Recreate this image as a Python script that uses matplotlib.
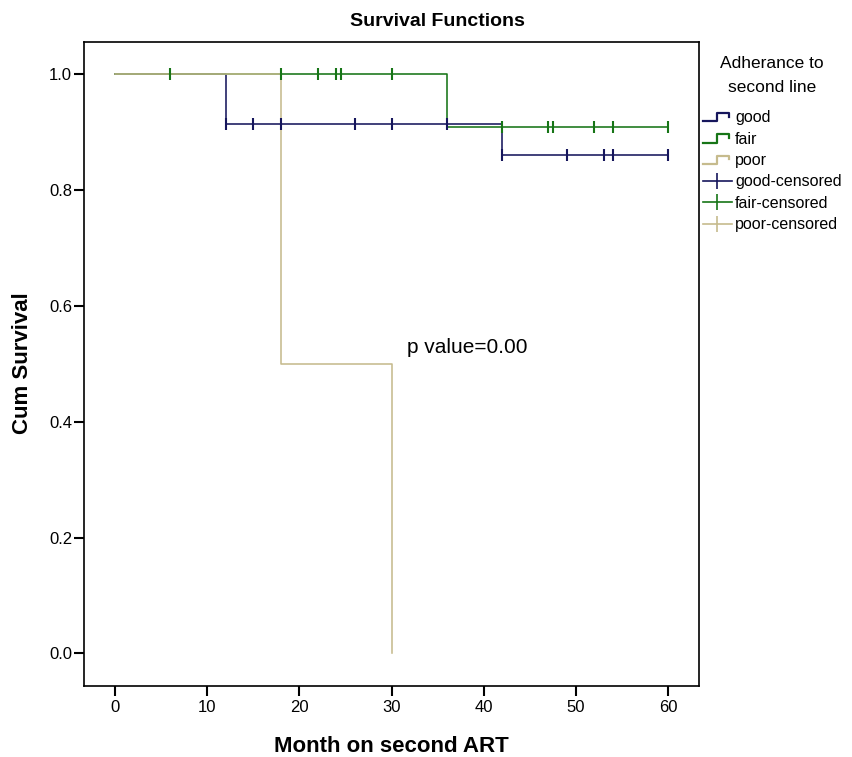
import numpy as np
import matplotlib
matplotlib.use("Agg")
import matplotlib.pyplot as plt
from matplotlib.lines import Line2D

plt.rcParams['font.family'] = ['Liberation Sans', 'DejaVu Sans']

# ---- data ----
good_t = [0, 12, 42, 60]
good_s = [1.0, 0.915, 0.86, 0.86]
fair_t = [0, 36, 60]
fair_s = [1.0, 0.909, 0.909]
poor_t = [0, 18, 30]
poor_s = [1.0, 0.5, 0.0]

good_cens = [12, 15, 18, 26, 30, 36, 42, 49, 53, 54, 60]
fair_cens = [6, 18, 22, 24, 24.5, 30, 42, 47, 47.5, 52, 54, 60]
poor_cens = []

xticks = [0, 10, 20, 30, 40, 50, 60]
yticks = [0.0, 0.2, 0.4, 0.6, 0.8, 1.0]

c_good = '#16165c'
c_fair = '#177517'
c_poor = '#c6bb8d'


def surv_at(t_steps, s_steps, times):
    idx = np.searchsorted(np.asarray(t_steps), np.asarray(times, dtype=float), side='right') - 1
    return np.asarray(s_steps)[idx]


fig = plt.figure(figsize=(8.53, 7.57), dpi=100)
ax = fig.add_axes([84/853, 1-685.7/757, (699.3-84)/853, (685.7-42)/757])

lw = 1.15
ax.step(good_t, good_s, where='post', color=c_good, lw=lw, zorder=2)
ax.step(fair_t, fair_s, where='post', color=c_fair, lw=lw, zorder=3)
ax.step(poor_t, poor_s, where='post', color=c_poor, lw=lw, zorder=4)

ms, mew = 9, 1.5
ax.plot(good_cens, surv_at(good_t, good_s, good_cens), ls='none', marker='|',
        ms=ms, mew=mew, color=c_good, zorder=5)
ax.plot(fair_cens, surv_at(fair_t, fair_s, fair_cens), ls='none', marker='|',
        ms=ms, mew=mew, color=c_fair, zorder=6)
if poor_cens:
    ax.plot(poor_cens, surv_at(poor_t, poor_s, poor_cens), ls='none', marker='|',
            ms=ms, mew=mew, color=c_poor, zorder=6)

ax.set_xlim(-3.36, 63.37)
ax.set_ylim(-0.056, 1.056)
ax.set_xticks(xticks)
ax.set_yticks(yticks)
ax.set_xticklabels([str(v) for v in xticks])
ax.set_yticklabels([f"{v:.1f}" for v in yticks])
ax.tick_params(direction='out', length=7.5, width=1.5, labelsize=12, colors='black')
ax.tick_params(axis='x', pad=3)
ax.tick_params(axis='y', pad=1)
for sp in ax.spines.values():
    sp.set_linewidth(1.2)
    sp.set_color('black')

ax.text(31.7, 0.529, "p value=0.00", fontsize=15, va='center', ha='left')

fig.text(437/853, 1-22/757, "Survival Functions", fontsize=14, fontweight='bold',
         ha='center', va='center')
fig.text(391.5/853, 1-746/757, "Month on second ART", fontsize=16, fontweight='bold',
         ha='center', va='center')
fig.text(23/853, 1-363/757, "Cum Survival", fontsize=16, fontweight='bold',
         ha='center', va='center', rotation=90)


class StepHandler:
    def legend_artist(self, legend, orig_handle, fontsize, handlebox):
        x0, y0 = -handlebox.xdescent, -handlebox.ydescent
        w, h = handlebox.width, handlebox.height
        xs = [x0, x0 + w*0.5, x0 + w*0.5, x0 + w*0.92, x0 + w*0.92]
        ys = [y0 + h*0.1, y0 + h*0.1, y0 + h*0.85, y0 + h*0.85, y0 + h*0.5]
        ln = Line2D(xs, ys, color=orig_handle.get_color(), lw=1.6,
                    transform=handlebox.get_transform())
        handlebox.add_artist(ln)
        return ln


h_good = Line2D([], [], color=c_good)
h_fair = Line2D([], [], color=c_fair)
h_poor = Line2D([], [], color=c_poor)
hc_good = Line2D([], [], color=c_good, marker='|', ms=11, mew=1.2, lw=1.2)
hc_fair = Line2D([], [], color=c_fair, marker='|', ms=11, mew=1.2, lw=1.2)
hc_poor = Line2D([], [], color=c_poor, marker='|', ms=11, mew=1.2, lw=1.2)

handles = [h_good, h_fair, h_poor, hc_good, hc_fair, hc_poor]
labels = ["good", "fair", "poor", "good-censored", "fair-censored", "poor-censored"]
leg = fig.legend(handles, labels, loc='upper left', bbox_to_anchor=(703/853, 1-56/757),
                 frameon=False, fontsize=11.5, title="Adherance to\nsecond line",
                 title_fontsize=12.5, handlelength=1.8, handletextpad=0.2,
                 labelspacing=0.4, borderpad=0, borderaxespad=0,
                 handler_map={h_good: StepHandler(), h_fair: StepHandler(),
                              h_poor: StepHandler()})
leg.get_title().set_multialignment('center')
leg.get_title().set_linespacing(1.75)
leg._legend_box.sep = 11

fig.savefig("out.png", dpi=100)
